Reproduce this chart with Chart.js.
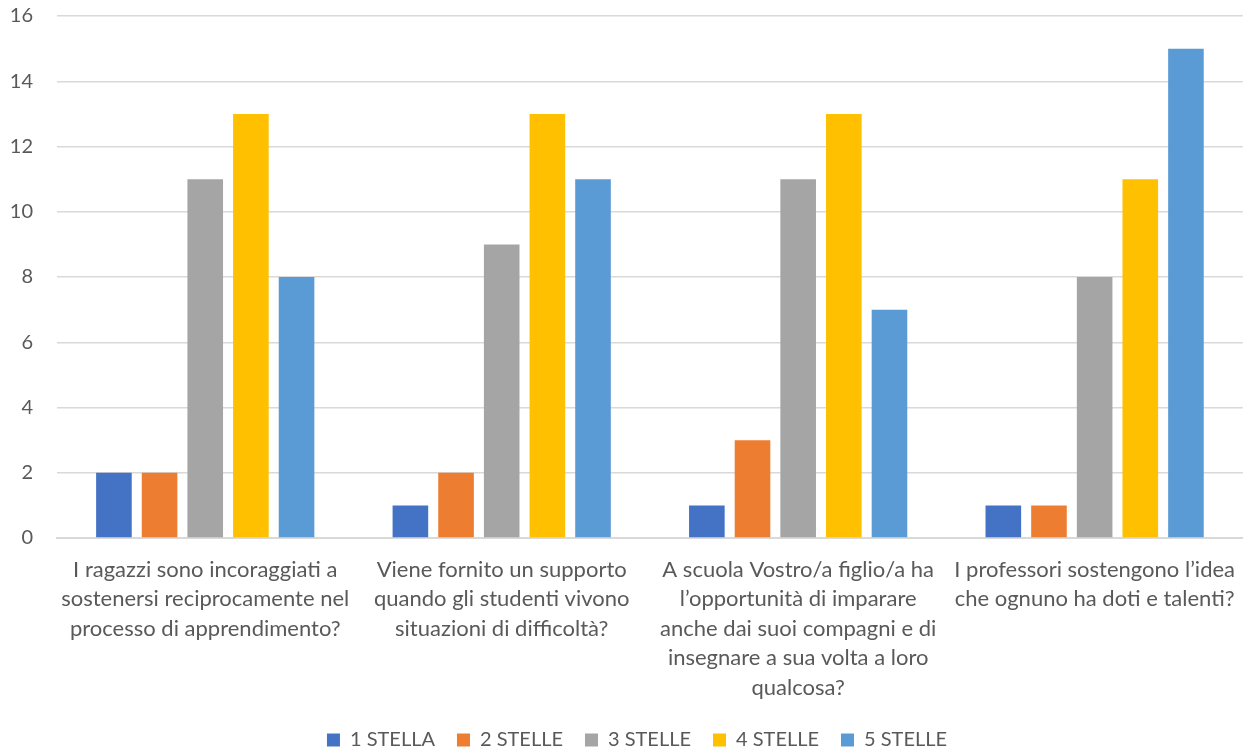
<!DOCTYPE html>
<html>
<head>
<meta charset="utf-8">
<script src="https://cdn.jsdelivr.net/npm/chart.js@4/dist/chart.umd.min.js"></script>
<style>
  html, body { margin: 0; padding: 0; background: #fff; }
  #wrap { width: 1252px; height: 751px; position: relative; }
</style>
</head>
<body>
<div id="wrap"><canvas id="chartStelle"></canvas></div>
<script>
// domande (etichette su più righe)
const domande = [
    ['I ragazzi sono incoraggiati a', 'sostenersi reciprocamente nel', 'processo di apprendimento?'],
    ['Viene fornito un supporto', 'quando gli studenti vivono', 'situazioni di difficoltà?'],
    ['A scuola Vostro/a figlio/a ha', 'l\u2019opportunità di imparare', 'anche dai suoi compagni e di', 'insegnare a sua volta a loro', 'qualcosa?'],
    ['I professori sostengono l\u2019idea', 'che ognuno ha doti e talenti?']
];

const stella1 = [2, 1, 1, 1];
const stelle2 = [2, 2, 3, 1];
const stelle3 = [11, 9, 11, 8];
const stelle4 = [13, 13, 13, 11];
const stelle5 = [8, 11, 7, 15];

const serie = [
    { label: '1 STELLA', data: stella1, color: '#4472C4' },
    { label: '2 STELLE', data: stelle2, color: '#ED7D31' },
    { label: '3 STELLE', data: stelle3, color: '#A5A5A5' },
    { label: '4 STELLE', data: stelle4, color: '#FFC000' },
    { label: '5 STELLE', data: stelle5, color: '#5B9BD5' }
];

const FONT = 'Lato, "Open Sans", sans-serif';
const GRIGIO = '#595959';

// legenda più bassa (riquadro accorciato) e un po' spostata a destra
const legendaCompatta = {
    id: 'legendaCompatta',
    afterInit(chart) {
        const lg = chart.legend;
        const fitOrig = lg.fit;
        lg.fit = function () {
            fitOrig.call(this);
            this.height = 43;
        };
    },
    afterLayout(chart) {
        chart.legend.left += 7;
        chart.legend.right += 7;
    }
};

const ctx = document.getElementById('chartStelle').getContext('2d');
new Chart(ctx, {
    type: 'bar',
    data: {
        labels: domande,
        datasets: serie.map(s => ({
            label: s.label,
            data: s.data,
            backgroundColor: s.color,
            borderWidth: 0,
            categoryPercentage: 0.77,
            barPercentage: 0.78
        }))
    },
    options: {
        responsive: true,
        maintainAspectRatio: false,
        animation: false,
        layout: { padding: { top: 0, right: 0, left: 8, bottom: 0 } },
        plugins: {
            legend: {
                position: 'bottom',
                labels: {
                    color: GRIGIO,
                    font: { family: FONT, size: 20 },
                    boxWidth: 13,
                    boxHeight: 13,
                    padding: 22
                }
            },
            tooltip: { enabled: false }
        },
        scales: {
            x: {
                grid: { display: false, drawTicks: false },
                border: { color: '#D9D9D9', width: 2 },
                ticks: {
                    color: GRIGIO,
                    font: { family: FONT, size: 22, lineHeight: 1.34 },
                    maxRotation: 0,
                    autoSkip: false,
                    padding: 17
                },
                afterFit: s => { s.height = 170; }
            },
            y: {
                min: 0,
                max: 16,
                grid: { color: '#D9D9D9', lineWidth: 1.5, drawTicks: false },
                border: { display: false },
                ticks: {
                    stepSize: 2,
                    color: GRIGIO,
                    font: { family: FONT, size: 20 },
                    padding: 24
                },
                // la spaziatura delle etichette non deve spostare l'area in alto
                afterFit: s => { s.paddingTop = 16; s.paddingBottom = 0; s.width = 49; }
            }
        }
    },
    plugins: [legendaCompatta]
});
</script>
</body>
</html>
